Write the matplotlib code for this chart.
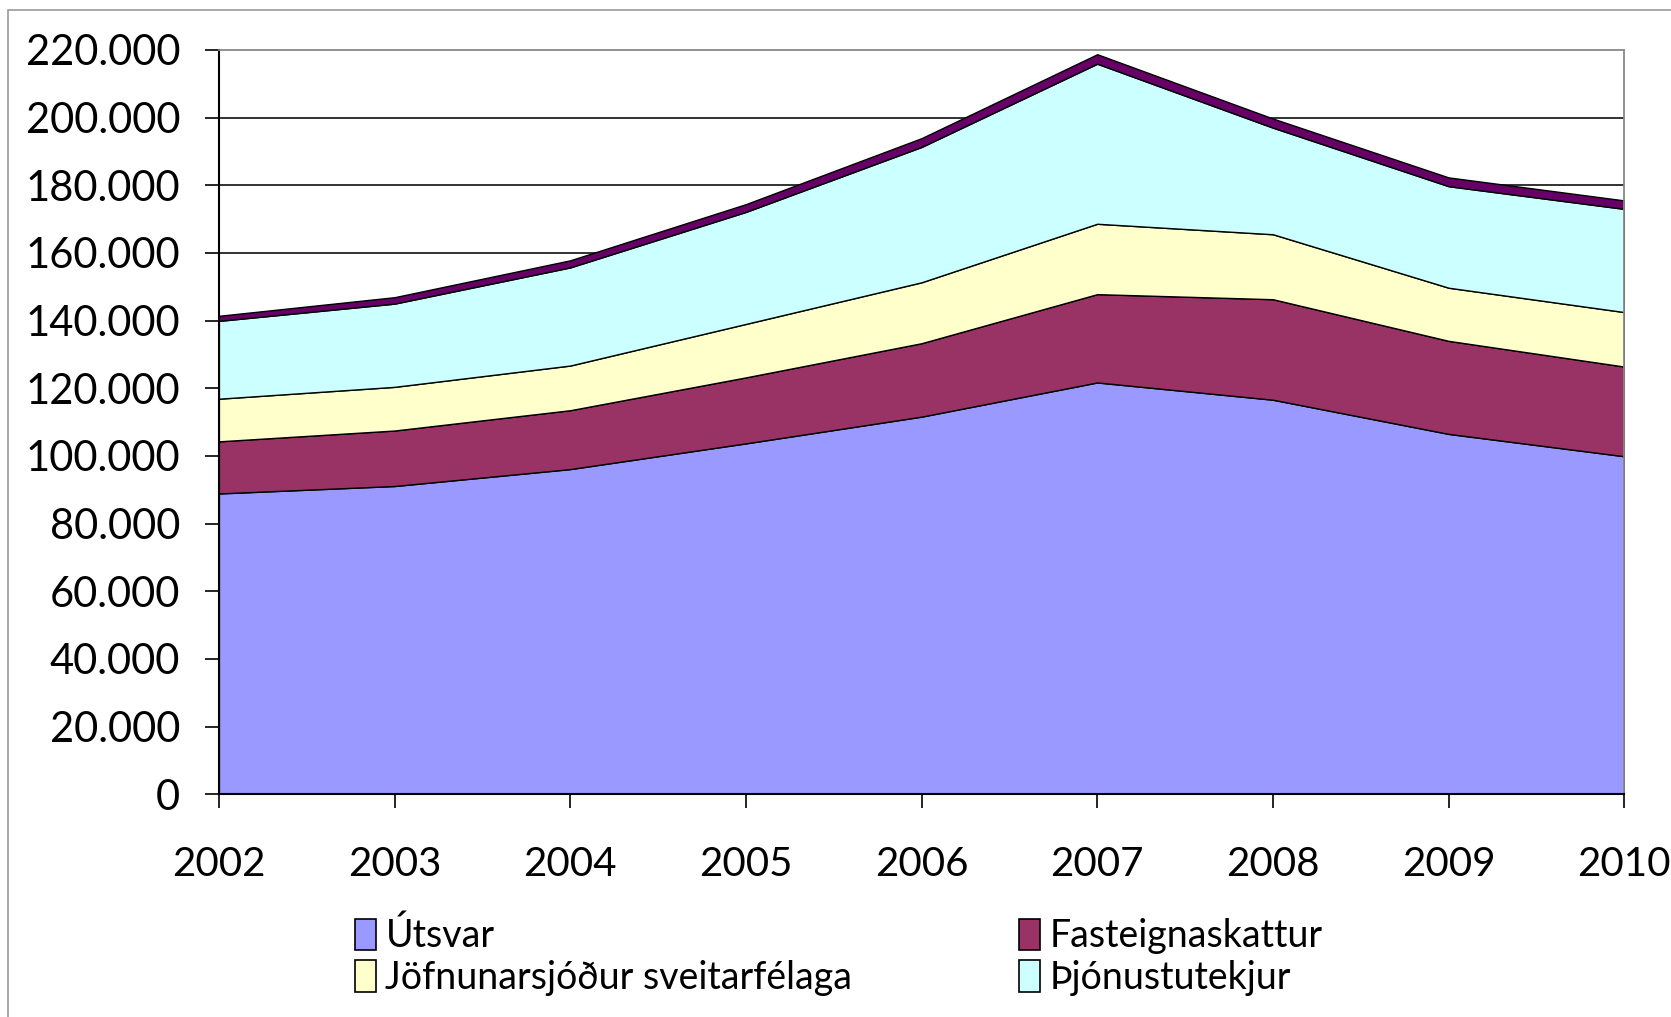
import matplotlib
matplotlib.use("Agg")
import matplotlib.pyplot as plt
from matplotlib.patches import Rectangle, Patch

plt.rcParams['font.family'] = ['Lato', 'DejaVu Sans']

years = [2002, 2003, 2004, 2005, 2006, 2007, 2008, 2009, 2010]
utsvar = [88.9, 91.1, 96.1, 103.7, 111.6, 121.7, 116.6, 106.5, 99.9]
fasteign = [15.4, 16.4, 17.4, 19.5, 21.7, 26.1, 29.7, 27.5, 26.5]
jofnun = [12.6, 12.9, 13.2, 15.8, 18.0, 20.8, 19.2, 15.7, 16.1]
thjonusta = [23.0, 24.6, 29.0, 33.1, 40.0, 47.3, 31.5, 30.0, 30.5]
adrar = [1.5, 1.9, 2.1, 2.3, 2.6, 2.8, 2.7, 2.6, 2.5]

labels = ["Útsvar", "Fasteignaskattur", "Jöfnunarsjóður sveitarfélaga", "Þjónustutekjur", ""]
colors = ["#9999FF", "#993366", "#FFFFCC", "#CCFFFF", "#660066"]
yticks = list(range(0, 220001, 20000))

series = [[v * 1000 for v in s] for s in (utsvar, fasteign, jofnun, thjonusta, adrar)]

fig = plt.figure(figsize=(16.71, 10.17), dpi=100)
ax = fig.add_axes([0.131, 0.219, 0.841, 0.732])

# gridlines behind the areas
for t in yticks[1:-1]:
    ax.axhline(t, color="#222222", lw=1.3, zorder=0)

polys = ax.stackplot(years, *series, colors=colors, edgecolor="black", linewidth=1.0, zorder=2)

ax.set_xlim(2002, 2010)
ax.set_ylim(0, 220000)
ax.set_xticks(years)
ax.set_xticklabels([str(y) for y in years], fontsize=29)
ax.set_yticks(yticks)
ax.set_yticklabels([f"{t:,}".replace(",", ".") for t in yticks], fontsize=30)
ax.tick_params(axis="both", direction="out", length=10, width=1.2, color="black")
ax.tick_params(axis="x", pad=27)
ax.tick_params(axis="y", pad=18)

for side in ("top", "right"):
    ax.spines[side].set_color("#888888")
    ax.spines[side].set_linewidth(1.3)
for side in ("left", "bottom"):
    ax.spines[side].set_color("black")
    ax.spines[side].set_linewidth(1.5)

handles = [Patch(facecolor=colors[i], edgecolor="black", lw=1.2) for i in (0, 2, 1, 3)]
names = [labels[i] for i in (0, 2, 1, 3)]
fig.legend(handles, names, ncol=2, loc="upper left", bbox_to_anchor=(0.2015, 0.116),
           frameon=False, fontsize=27, handlelength=0.55, handleheight=0.9,
           handletextpad=0.25, columnspacing=4.45, labelspacing=0.15, borderpad=0)

# outer chart border
fig.add_artist(Rectangle((8 / 1671, -0.05), 1.1, 1 - 10 / 1017 + 0.05,
                         transform=fig.transFigure, fill=False,
                         edgecolor="#999999", lw=1.2))

fig.savefig("out.png", dpi=100, facecolor="white")
